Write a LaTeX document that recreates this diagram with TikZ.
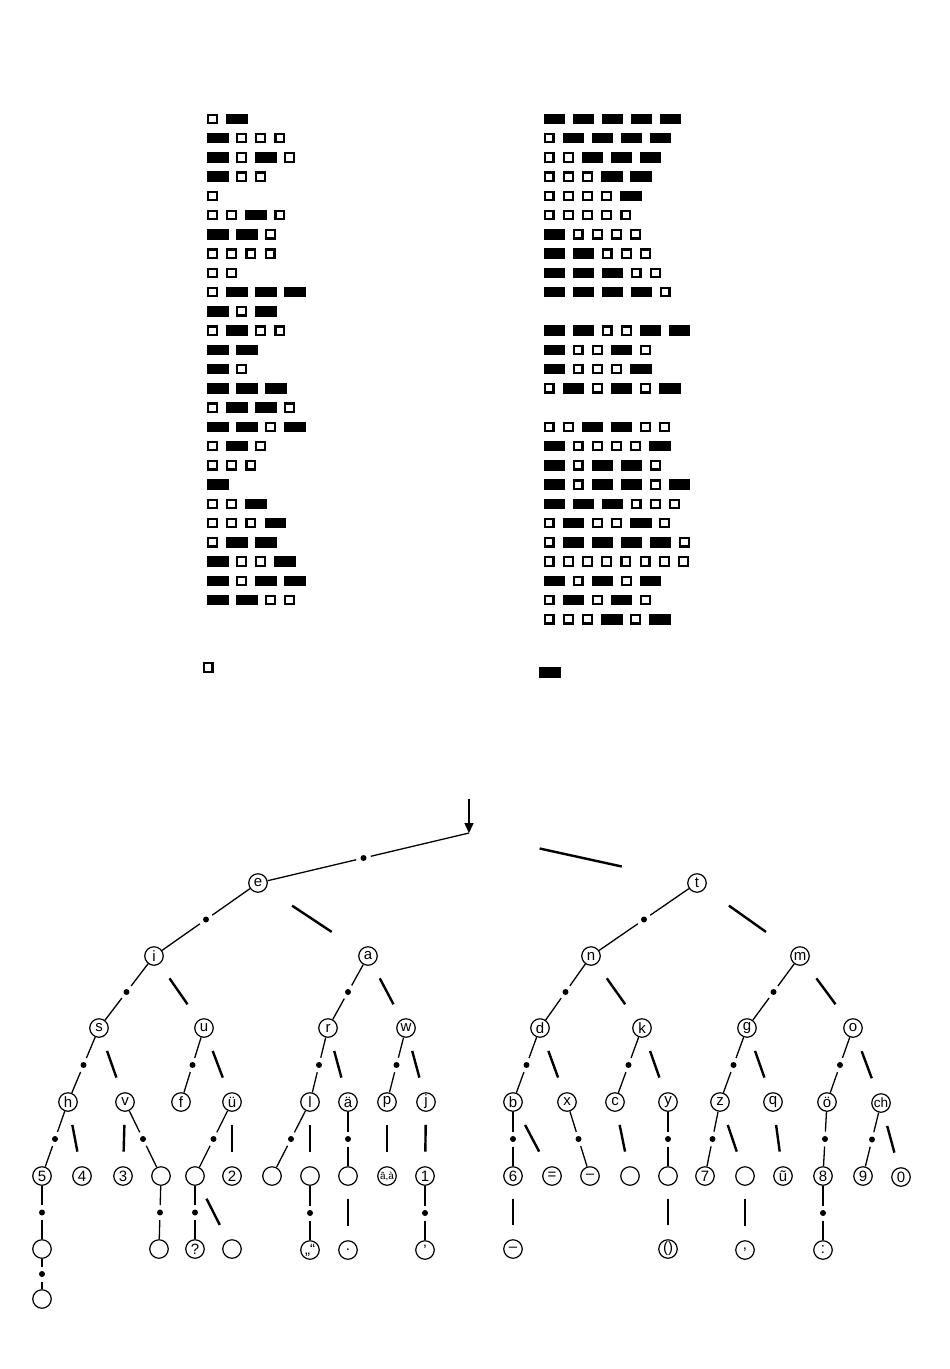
\documentclass[tikz,border=0pt]{standalone}
\usepackage{fontspec}
\setmainfont{Liberation Sans}
\usetikzlibrary{calc,arrows.meta}

\newcommand\mcX{0}
\newcommand\mcY{0}
\newcommand\mcode[3]{\def\mcX{#1}\pgfmathsetmacro\mcY{119+19.24*#2}\mparse#3\relax}
\def\mparse#1{\ifx#1\relax\else\mone#1\expandafter\mparse\fi}
\def\mone#1{\if#1s\msq\else\mdsh\fi}
\def\msq{\draw[sqbox] (\mcX+1.1,\mcY-4.15) rectangle (\mcX+9.9,\mcY+4.15);\pgfmathsetmacro\mcX{\mcX+19.2}}
\def\mdsh{\fill[dshbox] (\mcX,\mcY-5.25) rectangle (\mcX+21.5,\mcY+5.25);\pgfmathsetmacro\mcX{\mcX+29}}

\newcommand\dotE[2]{%
  \draw[dotln, shorten >=7.5pt] (#1) -- ($(#1)!0.5!(#2)$);
  \draw[dotln, shorten <=7.5pt] ($(#1)!0.5!(#2)$) -- (#2);
  \fill ($(#1)!0.5!(#2)$) circle (3pt);}
\newcommand\dashE[2]{\draw[dashln] ($(#1)!0.31!(#2)$) -- ($(#1)!0.67!(#2)$);}

\begin{document}
\begin{tikzpicture}[x=1pt,y=-1pt,
  sqbox/.style={draw=black, line width=2.2pt},
  dshbox/.style={fill=black},
  tn/.style={circle, draw, line width=1.2pt, minimum size=18.5pt, inner sep=0pt,
             font=\fontsize{15}{15}\selectfont},
  dotln/.style={line width=1.3pt},
  dashln/.style={line width=2.4pt}]
\fill[white] (0,0) rectangle (950,1369);
\useasboundingbox (0,0) rectangle (950,1369);

% ---- left column: letters a..z
\mcode{207}{0}{sl}
\mcode{207}{1}{lsss}
\mcode{207}{2}{lsls}
\mcode{207}{3}{lss}
\mcode{207}{4}{s}
\mcode{207}{5}{ssls}
\mcode{207}{6}{lls}
\mcode{207}{7}{ssss}
\mcode{207}{8}{ss}
\mcode{207}{9}{slll}
\mcode{207}{10}{lsl}
\mcode{207}{11}{slss}
\mcode{207}{12}{ll}
\mcode{207}{13}{ls}
\mcode{207}{14}{lll}
\mcode{207}{15}{slls}
\mcode{207}{16}{llsl}
\mcode{207}{17}{sls}
\mcode{207}{18}{sss}
\mcode{207}{19}{l}
\mcode{207}{20}{ssl}
\mcode{207}{21}{sssl}
\mcode{207}{22}{sll}
\mcode{207}{23}{lssl}
\mcode{207}{24}{lsll}
\mcode{207}{25}{llss}
% single dot
\draw[sqbox] (203.6,663.1) rectangle (212.4,671.9);

% ---- right column
\mcode{543.5}{0}{lllll}
\mcode{543.5}{1}{sllll}
\mcode{543.5}{2}{sslll}
\mcode{543.5}{3}{sssll}
\mcode{543.5}{4}{ssssl}
\mcode{543.5}{5}{sssss}
\mcode{543.5}{6}{lssss}
\mcode{543.5}{7}{llsss}
\mcode{543.5}{8}{lllss}
\mcode{543.5}{9}{lllls}
\mcode{543.5}{11}{llssll}
\mcode{543.5}{12}{lssls}
\mcode{543.5}{13}{lsssl}
\mcode{543.5}{14}{slslsl}
\mcode{543.5}{16}{ssllss}
\mcode{543.5}{17}{lssssl}
\mcode{543.5}{18}{lslls}
\mcode{543.5}{19}{lsllsl}
\mcode{543.5}{20}{lllsss}
\mcode{543.5}{21}{slssls}
\mcode{543.5}{22}{slllls}
\mcode{543.5}{23}{ssssssss}
\mcode{543.5}{24}{lslsl}
\mcode{543.5}{25}{slsls}
\mcode{543.5}{26}{ssslsl}
% single dash
\fill[dshbox] (539,667.2) rectangle (560.5,677.7);

% ---- tree
\coordinate (top) at (469,799);
\coordinate (root) at (469,833);
\draw[line width=1.4pt, -{Triangle[length=10pt,width=9pt]}] (top) -- (root);

\node[tn] (Ne) at (258,883) {e};
\node[tn] (Nt) at (697,883) {t};

\node[tn] (Ni) at (154,956) {i};
\node[tn] (Na) at (368,956) {a};
\node[tn] (Nn) at (591,956) {n};
\node[tn] (Nm) at (800,956) {m};

\node[tn] (Ns) at (99,1028) {s};
\node[tn] (Nu) at (204,1028) {u};
\node[tn] (Nr) at (328,1028) {r};
\node[tn] (Nw) at (406,1028) {w};
\node[tn] (Nd) at (540,1028) {d};
\node[tn] (Nk) at (642,1028) {k};
\node[tn] (Ng) at (747,1028) {g};
\node[tn] (No) at (853,1028) {o};

\node[tn] (Nh) at (68,1102) {h};
\node[tn] (Nv) at (125,1102) {v};
\node[tn] (Nf) at (181,1102) {f};
\node[tn] (Nue) at (232,1102) {ü};
\node[tn] (Nl) at (310,1102) {l};
\node[tn] (Nae) at (348,1102) {ä};
\node[tn] (Np) at (387,1102) {p};
\node[tn] (Nj) at (426,1102) {j};
\node[tn] (Nb) at (513,1102) {b};
\node[tn] (Nx) at (567,1102) {x};
\node[tn] (Nc) at (615,1102) {c};
\node[tn] (Ny) at (668,1102) {y};
\node[tn] (Nz) at (720,1102) {z};
\node[tn] (Nq) at (773,1102) {q};
\node[tn] (Noe) at (827,1102) {ö};
\node[tn] (Nch) at (881,1103) {\makebox[0pt]{\fontsize{13.5}{13.5}\selectfont ch}};

\node[tn] (N5) at (42,1176) {5};
\node[tn] (N4) at (82,1176) {4};
\node[tn] (N3) at (123,1176) {3};
\node[tn] (Nv1) at (161,1176) {};
\node[tn] (Nue1) at (195,1176) {};
\node[tn] (N2) at (232,1176) {2};
\node[tn] (Nl1) at (272,1176) {};
\node[tn] (Nl2) at (310,1176) {};
\node[tn] (Nae1) at (348,1176) {};
\node[tn] (Npa) at (387,1176) {\makebox[0pt]{\fontsize{10}{10}\selectfont â,à}};
\node[tn] (N1) at (425,1176) {1};
\node[tn] (N6) at (513,1176) {6};
\node[tn] (Neq) at (552,1176) {=};
\node[tn] (Nxm) at (590,1176) {–};
\node[tn] (Nc1) at (630,1176) {};
\node[tn] (Ny1) at (668,1176) {};
\node[tn] (N7) at (705,1176) {7};
\node[tn] (Nz1) at (745,1176) {};
\node[tn] (Nqu) at (783,1176) {ũ};
\node[tn] (N8) at (823,1176) {8};
\node[tn] (N9) at (863,1176) {9};
\node[tn] (N0) at (901,1177) {0};

\node[tn] (N5a) at (42,1249) {};
\node[tn] (Nv1a) at (159,1249) {};
\node[tn] (Nqm) at (195,1249) {?};
\node[tn] (Nue1b) at (232,1249) {};
\node[tn] (Nquo) at (310,1250) {\makebox[0pt]{„“}};
\node[tn] (Nper) at (348,1250) {.};
\node[tn] (Napo) at (425,1250) {'};
\node[tn] (Nhy) at (513,1249) {–};
\node[tn] (Npar) at (668,1249) {()};
\node[tn] (Ncom) at (745,1250) {,};
\node[tn] (Ncol) at (823,1250) {:};

\node[tn] (N5b) at (42,1299) {};

\dotE{root}{Ne} \dashE{root}{Nt}
\dotE{Ne}{Ni} \dashE{Ne}{Na}
\dotE{Nt}{Nn} \dashE{Nt}{Nm}
\dotE{Ni}{Ns} \dashE{Ni}{Nu}
\dotE{Na}{Nr} \dashE{Na}{Nw}
\dotE{Nn}{Nd} \dashE{Nn}{Nk}
\dotE{Nm}{Ng} \dashE{Nm}{No}
\dotE{Ns}{Nh} \dashE{Ns}{Nv}
\dotE{Nu}{Nf} \dashE{Nu}{Nue}
\dotE{Nr}{Nl} \dashE{Nr}{Nae}
\dotE{Nw}{Np} \dashE{Nw}{Nj}
\dotE{Nd}{Nb} \dashE{Nd}{Nx}
\dotE{Nk}{Nc} \dashE{Nk}{Ny}
\dotE{Ng}{Nz} \dashE{Ng}{Nq}
\dotE{No}{Noe} \dashE{No}{Nch}
\dotE{Nh}{N5} \dashE{Nh}{N4}
\dotE{Nv}{Nv1} \dashE{Nv}{N3}
\dotE{Nue}{Nue1} \dashE{Nue}{N2}
\dotE{Nl}{Nl1} \dashE{Nl}{Nl2}
\dotE{Nae}{Nae1}
\dashE{Np}{Npa}
\dashE{Nj}{N1}
\dotE{Nb}{N6} \dashE{Nb}{Neq}
\dotE{Nx}{Nxm}
\dashE{Nc}{Nc1}
\dotE{Ny}{Ny1}
\dotE{Nz}{N7} \dashE{Nz}{Nz1}
\dashE{Nq}{Nqu}
\dotE{Noe}{N8}
\dotE{Nch}{N9} \dashE{Nch}{N0}
\dotE{N5}{N5a} \dotE{N5a}{N5b}
\dotE{Nv1}{Nv1a}
\dotE{Nue1}{Nqm} \dashE{Nue1}{Nue1b}
\dotE{Nl2}{Nquo}
\dashE{Nae1}{Nper}
\dotE{N1}{Napo}
\dashE{N6}{Nhy}
\dashE{Ny1}{Npar}
\dashE{Nz1}{Ncom}
\dotE{N8}{Ncol}
\end{tikzpicture}
\end{document}
